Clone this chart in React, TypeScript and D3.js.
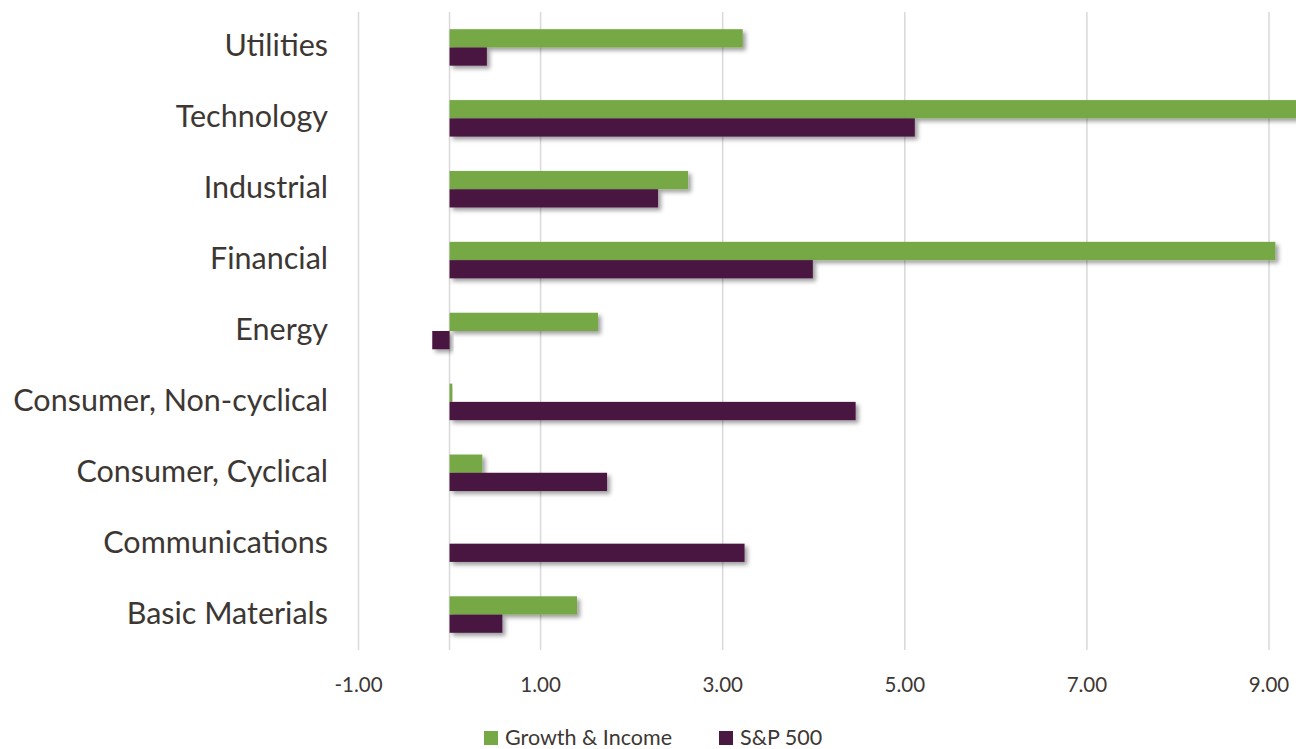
import React from "react";
import * as d3 from "d3";

const categories = [
  "Utilities",
  "Technology",
  "Industrial",
  "Financial",
  "Energy",
  "Consumer, Non-cyclical",
  "Consumer, Cyclical",
  "Communications",
  "Basic Materials",
];
const growthIncome = [3.22, 9.6, 2.62, 9.07, 1.63, 0.03, 0.36, 0, 1.4];
const sp500 = [0.41, 5.11, 2.29, 3.99, -0.19, 4.46, 1.73, 3.24, 0.58];
const tickValues = [-1, 1, 3, 5, 7, 9];
const seriesNames = ["Growth & Income", "S&P 500"];
const colors = ["#76a845", "#4a1942"];

const W = 1296;
const H = 749;
const FONT = "Lato, 'Open Sans', sans-serif";
const TEXT = "#3d3733";

export default function App() {
  const x = d3.scaleLinear().domain([-1, 9]).range([358.5, 1269]);
  const y = d3.scaleBand().domain(categories).range([12, 650]).paddingInner(0).paddingOuter(0);
  const groupH = 36.5;
  const sub = d3.scaleBand().domain(["0", "1"]).range([0, groupH]);
  const series = [growthIncome, sp500];
  const fmt = (t: number) => d3.format(".2f")(t).replace("\u2212", "-");

  return (
    <svg width={W} height={H} style={{ position: "absolute", left: 0, top: 0, background: "#fff" }}>
      <defs>
        <filter id="sh" x="-10%" y="-50%" width="130%" height="250%">
          <feDropShadow dx="3" dy="3" stdDeviation="2.2" floodColor="#000" floodOpacity="0.38" />
        </filter>
      </defs>
      {tickValues.map((t) => (
        <line key={t} x1={x(t)} x2={x(t)} y1={12} y2={650} stroke="#d9d9d9" strokeWidth={1.5} />
      ))}
      <line x1={x(0)} x2={x(0)} y1={12} y2={650} stroke="#d9d9d9" strokeWidth={1.5} />
      {categories.map((c, i) => {
        const y0 = (y(c) as number) + (y.bandwidth() - groupH) / 2;
        return (
          <g key={c}>
            {series.map((s, k) => {
              const v = s[i];
              if (v === 0) return null;
              const xa = x(Math.min(0, v));
              const xb = x(Math.max(0, v));
              return (
                <rect
                  key={k}
                  x={xa}
                  y={y0 + (sub(String(k)) as number)}
                  width={Math.max(xb - xa, 0.5)}
                  height={sub.bandwidth()}
                  fill={colors[k]}
                  filter="url(#sh)"
                />
              );
            })}
            <text
              x={328}
              y={(y(c) as number) + y.bandwidth() / 2 - 3}
              textAnchor="end"
              dominantBaseline="central"
              fontFamily={FONT}
              fontSize={30.5}
              fill={TEXT}
            >
              {c}
            </text>
          </g>
        );
      })}
      {tickValues.map((t) => (
        <text
          key={t}
          x={x(t)}
          y={684}
          textAnchor="middle"
          dominantBaseline="central"
          fontFamily={FONT}
          fontSize={20.5}
          fill={TEXT}
        >
          {fmt(t)}
        </text>
      ))}
      {seriesNames.map((n, k) => {
        const lx = k === 0 ? 484 : 719;
        return (
          <g key={n}>
            <rect x={lx} y={731} width={14} height={14} fill={colors[k]} />
            <text x={lx + 21} y={737} dominantBaseline="central" fontFamily={FONT} fontSize={21.5} fill={TEXT}>
              {n}
            </text>
          </g>
        );
      })}
    </svg>
  );
}
